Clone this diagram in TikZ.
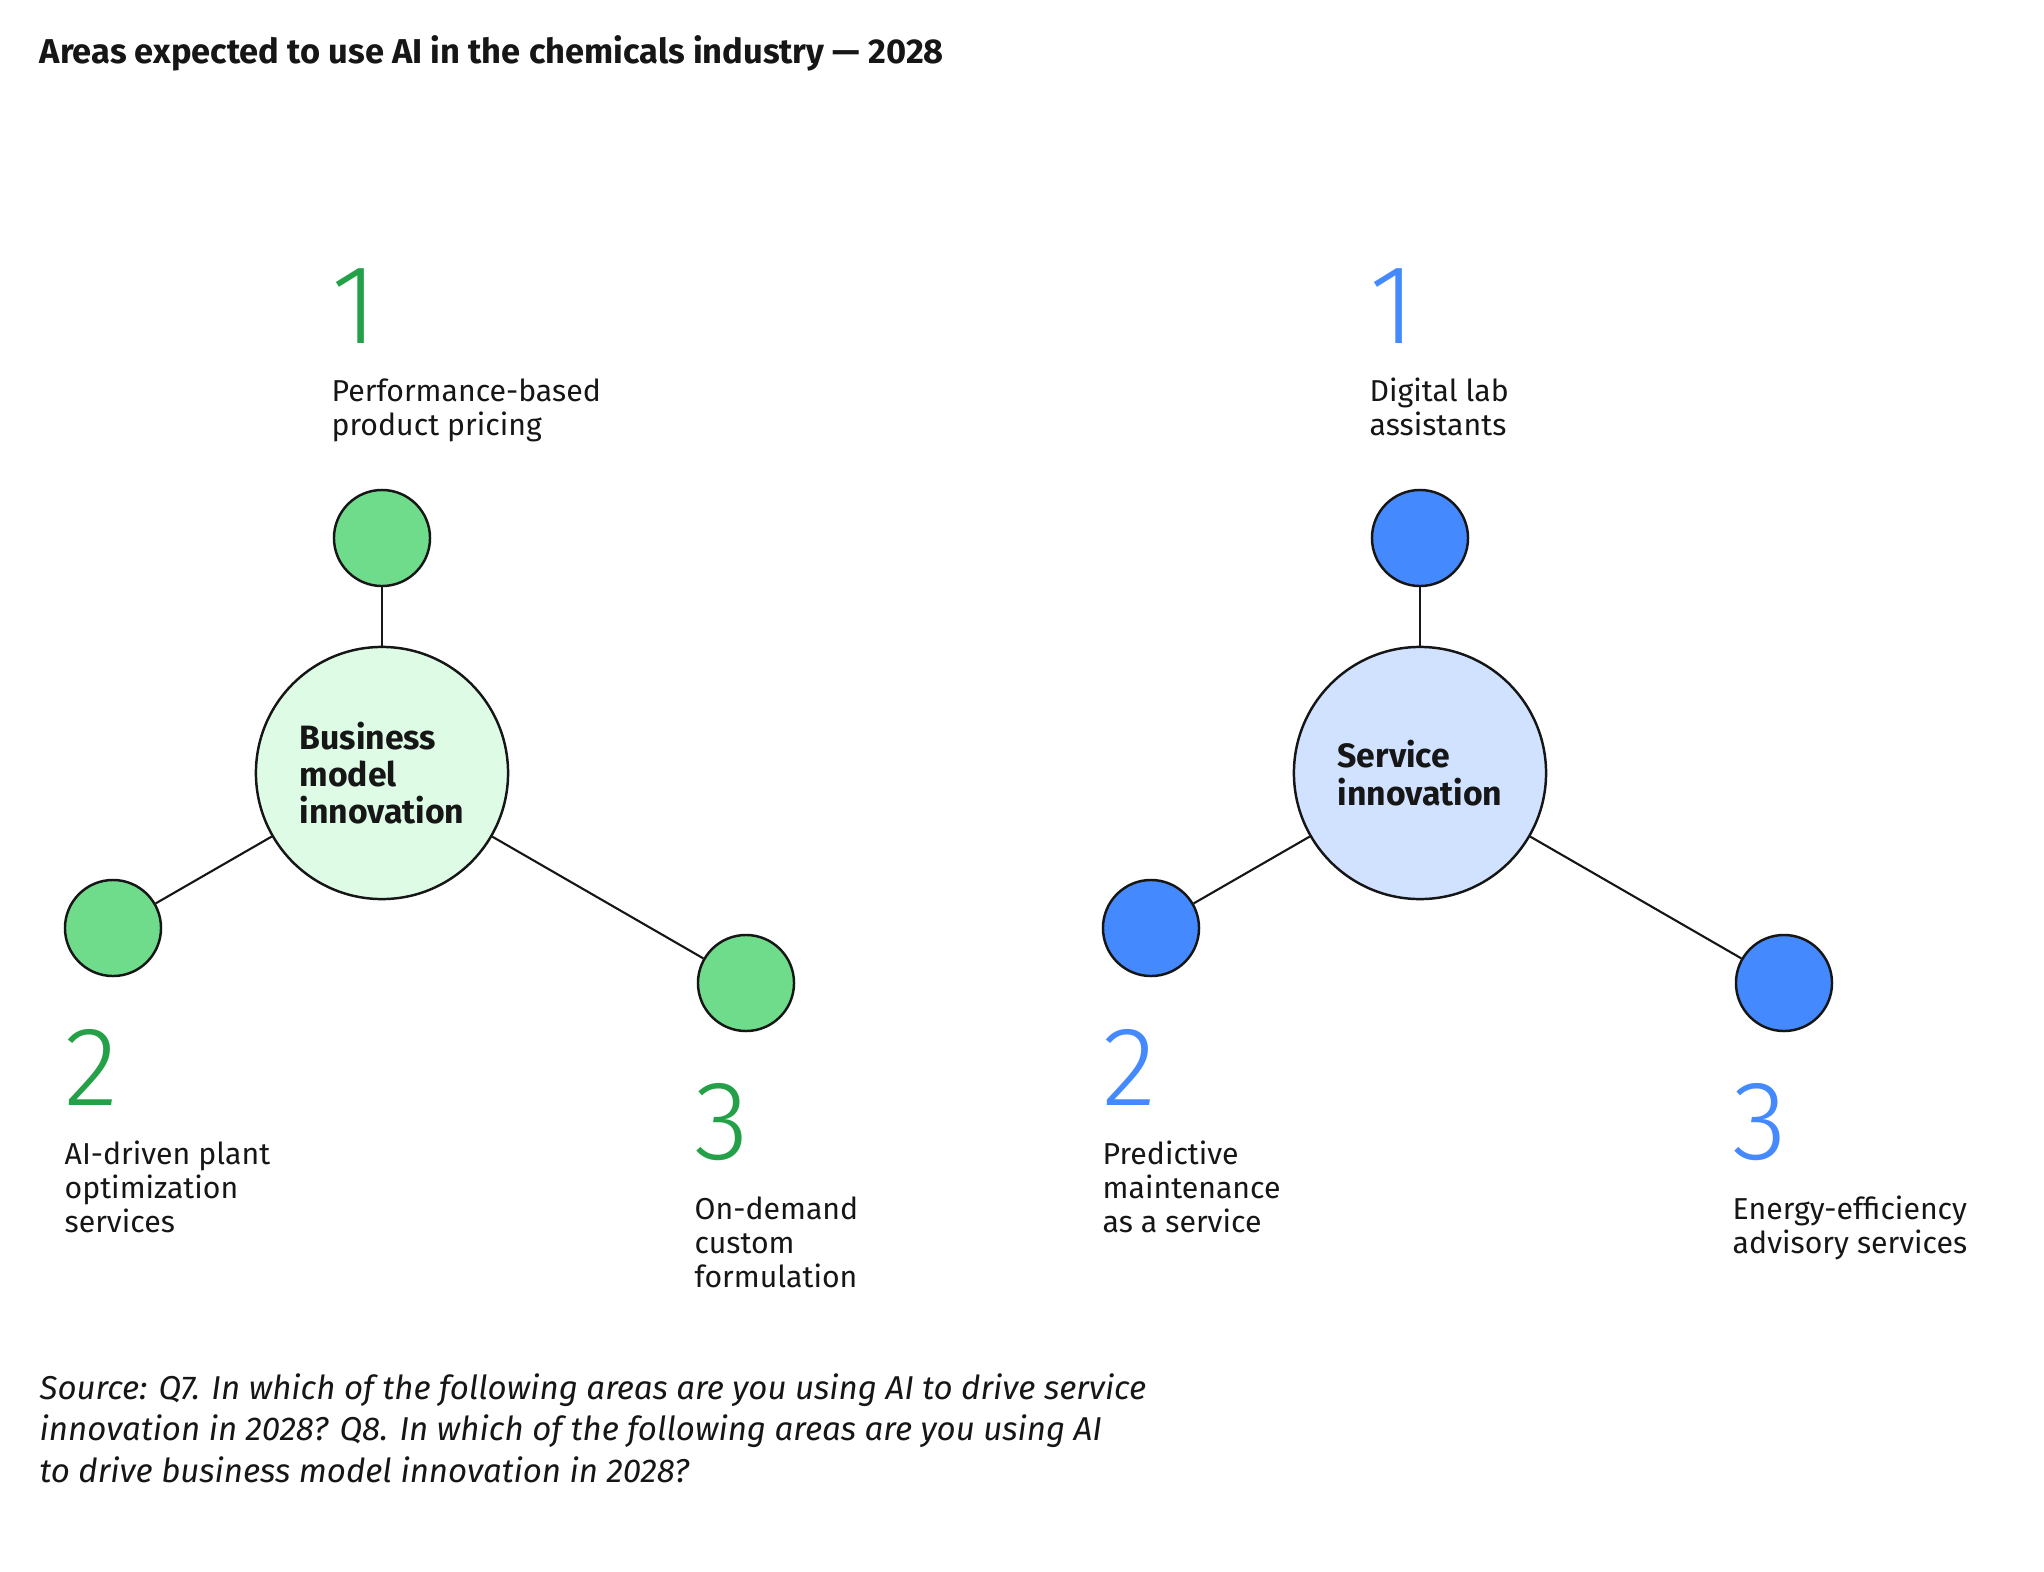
\documentclass[tikz,border=0pt]{standalone}
\usepackage{fontspec}
\setmainfont{Fira Sans}
\newfontfamily\numfont{Fira Sans Light}
\usetikzlibrary{positioning}
\definecolor{ink}{HTML}{161616}
\definecolor{grnnum}{HTML}{24A148}
\definecolor{grnleaf}{HTML}{6FDC8C}
\definecolor{grnhub}{HTML}{DEFBE6}
\definecolor{bluenum}{HTML}{4589FF}
\definecolor{blueleaf}{HTML}{4589FF}
\definecolor{bluehub}{HTML}{D0E2FF}
\begin{document}
\begin{tikzpicture}[
  x=0.01cm, y=-0.01cm,
  every node/.style={inner sep=0pt, text=ink},
  hub/.style={circle, draw=ink, line width=0.7pt, minimum size=2.52cm, align=left,
    font=\bfseries\fontsize{9.6}{10.6}\selectfont},
  leaf/.style={circle, draw=ink, line width=0.7pt, minimum size=0.96cm},
  rank/.style={anchor=base west, font=\numfont\fontsize{32}{32}\selectfont},
  area/.style={anchor=base west, align=left, font=\fontsize{8.6}{9.67}\selectfont},
  link/.style={draw=ink, line width=0.6pt}
]
\useasboundingbox (0,0) rectangle (2044,1572);
\node[anchor=base west, font=\bfseries\fontsize{9.8}{11}\selectfont] (title) at (39,63)
  {Areas expected to use AI in the chemicals industry — 2028};
% business model innovation (labels sit on their last baseline)
\begin{scope}
  \node[hub, fill=grnhub] (bmi) at (382,773) {Business\\model\\innovation};
  \node[leaf, fill=grnleaf] (bmi1) at (382,538) {};
  \node[leaf, fill=grnleaf] (bmi2) at (113,928) {};
  \node[leaf, fill=grnleaf] (bmi3) at (746,983) {};
  \foreach \k in {1,2,3} \draw[link] (bmi) -- (bmi\k);
  \node[rank, text=grnnum] (bmin1) at (331,343) {1};
  \node[area] (bmit1) at (331,435) {Performance-based\\product pricing};
  \node[rank, text=grnnum] (bmin2) at (64,1105) {2};
  \node[area] (bmit2) at (64,1232) {AI-driven plant\\optimization\\services};
  \node[rank, text=grnnum] (bmin3) at (694,1159) {3};
  \node[area] (bmit3) at (694,1287) {On-demand\\custom\\formulation};
\end{scope}
% service innovation
\begin{scope}[shift={(1038,0)}]
  \node[hub, fill=bluehub] (svc) at (382,773) {Service\\innovation};
  \node[leaf, fill=blueleaf] (svc1) at (382,538) {};
  \node[leaf, fill=blueleaf] (svc2) at (113,928) {};
  \node[leaf, fill=blueleaf] (svc3) at (746,983) {};
  \foreach \k in {1,2,3} \draw[link] (svc) -- (svc\k);
  \node[rank, text=bluenum] (svcn1) at (331,343) {1};
  \node[area] (svct1) at (331,435) {Digital lab\\assistants};
  \node[rank, text=bluenum] (svcn2) at (64,1105) {2};
  \node[area] (svct2) at (64,1232) {Predictive\\maintenance\\as a service};
  \node[rank, text=bluenum] (svcn3) at (694,1159) {3};
  \node[area] (svct3) at (694,1253) {Energy-efficiency\\advisory services};
\end{scope}
\node[anchor=base west, align=left, font=\itshape\fontsize{9.4}{11.7}\selectfont] (source) at (39,1482)
  {Source: Q7. In which of the following areas are you using AI to drive service\\
   innovation in 2028? Q8. In which of the following areas are you using AI\\
   to drive business model innovation in 2028?};
\end{tikzpicture}
\end{document}
